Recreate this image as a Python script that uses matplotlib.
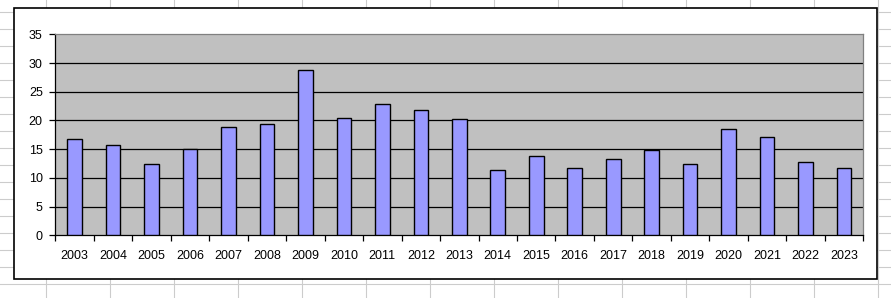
import matplotlib
matplotlib.use("Agg")
import matplotlib.pyplot as plt
from matplotlib.patches import Rectangle
import numpy as np

years = ["2003", "2004", "2005", "2006", "2007", "2008", "2009", "2010", "2011", "2012",
         "2013", "2014", "2015", "2016", "2017", "2018", "2019", "2020", "2021", "2022", "2023"]
values = [16.7, 15.7, 12.5, 15.0, 18.8, 19.3, 28.7, 20.4, 22.9, 21.9,
          20.2, 11.3, 13.8, 11.8, 13.2, 14.9, 12.4, 18.5, 17.1, 12.7, 11.7]
y_ticks = [0, 5, 10, 15, 20, 25, 30, 35]

plt.rcParams['font.family'] = ['Liberation Sans', 'DejaVu Sans']

W, H = 891, 298
fig = plt.figure(figsize=(W / 100, H / 100), dpi=100)
fig.patch.set_facecolor("white")

# spreadsheet background grid (pixel coordinates)
bg = fig.add_axes([0, 0, 1, 1])
bg.set_xlim(0, W)
bg.set_ylim(H, 0)
bg.axis("off")
for x in np.arange(45.5, W, 64):
    bg.plot([x, x], [0, H], color="#cccccc", lw=0.8, zorder=0)
for y in np.arange(12.3, H, 17):
    bg.plot([0, W], [y, y], color="#cccccc", lw=0.8, zorder=0)
# chart area box
bg.add_patch(Rectangle((14.3, 8.3), 862.4, 271, facecolor="white",
                       edgecolor="black", lw=1.2, zorder=2))

# plot area
left, right = 55.3, 863.3
top, bottom = 34.3, 235.3
ax = fig.add_axes([left / W, (H - bottom) / H, (right - left) / W, (bottom - top) / H])
ax.set_zorder(3)
ax.set_facecolor("#c0c0c0")
x = np.arange(len(years))
ax.bar(x, values, width=0.38, color="#9999ff", edgecolor="black", linewidth=1.0, zorder=3)
ax.set_xlim(-0.5, len(years) - 0.5)
ax.set_ylim(0, 35)
for v in y_ticks[1:-1]:
    ax.axhline(v, color="black", lw=0.9, zorder=1)

ax.set_yticks(y_ticks)
ax.set_yticklabels([str(v) for v in y_ticks])
ax.tick_params(axis="y", direction="out", length=4, width=0.9, pad=5, labelsize=9, colors="black")
ax.set_xticks(x)
ax.set_xticklabels(years)
ax.set_xticks(np.arange(-0.5, len(years), 1.0), minor=True)
ax.tick_params(axis="x", which="major", length=0, pad=10.5, labelsize=9)
ax.tick_params(axis="x", which="minor", direction="out", length=4, width=0.9)

for s in ["left", "bottom"]:
    ax.spines[s].set_color("black")
    ax.spines[s].set_linewidth(0.9)
for s in ["top", "right"]:
    ax.spines[s].set_color("#808080")
    ax.spines[s].set_linewidth(0.9)

fig.savefig("out.png", dpi=100)
